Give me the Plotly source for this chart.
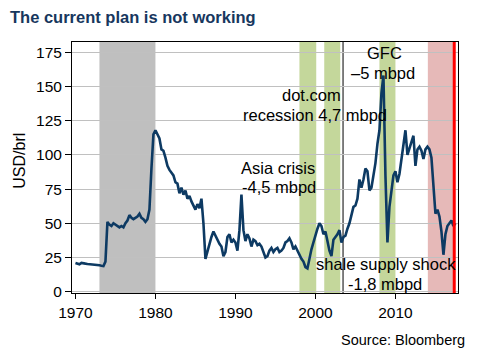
import numpy as np
import plotly.graph_objects as go

# Quarterly oil price readings (USD/brl), starting Q1 1970
prices = [
    21, 20.5, 20, 21,          # 1970
    20.5, 20.5, 20.3, 20.2,    # 1971
    20, 20, 19.8, 19.5,        # 1972
    19.3, 19, 18.8, 22,        # 1973
    51, 49, 48, 50,            # 1974
    49, 48, 47, 48,            # 1975
    47, 50, 52, 56,            # 1976
    54, 53, 54, 55,            # 1977
    57, 54, 53, 51,            # 1978
    53, 60, 90, 115,           # 1979
    118, 115, 112, 104,        # 1980
    103, 98, 92, 89,           # 1981
    87, 85, 80, 79,            # 1982
    72, 76, 71, 74,            # 1983
    68, 70, 66, 63,            # 1984
    60, 64, 61, 68,            # 1985
    50, 24, 30, 35,            # 1986
    40, 44, 41, 37,            # 1987
    35, 33, 26, 29,            # 1988
    40, 42, 36, 38,            # 1989
    36, 30, 45, 71,            # 1990
    45, 37, 42, 39,            # 1991
    33, 38, 37, 34,            # 1992
    35, 33, 29, 25,            # 1993
    26, 30, 32, 29,            # 1994
    31, 32, 29, 30,            # 1995
    32, 36, 37, 39,            # 1996
    36, 31, 33, 30,            # 1997
    26, 24, 22, 18,            # 1998
    17, 25, 31, 36,            # 1999
    42, 46, 50, 48,            # 2000
    42, 44, 37, 30,            # 2001
    26, 38, 40, 42,            # 2002
    45, 36, 40, 41,            # 2003
    46, 50, 56, 62,            # 2004
    63, 68, 82, 76,            # 2005
    82, 90, 88, 74,            # 2006
    76, 86, 94, 108,           # 2007
    118, 145, 158, 85,         # 2008
    36, 62, 72, 85,            # 2009
    88, 80, 86, 97,            # 2010
    110, 118, 100, 105,        # 2011
    110, 114, 92, 104,         # 2012
    106, 103, 97, 104,         # 2013
    106, 104, 98, 80,          # 2014
    57, 60, 55, 44,            # 2015
    27, 42, 48, 50,            # 2016
    52, 48, 50,                # 2017
]
years = 1970 + 0.25 * np.arange(len(prices))

x_ticks = [1970, 1980, 1990, 2000, 2010]
y_ticks = [0, 25, 50, 75, 100, 125, 150, 175]

# shaded periods (start, end, colour)
bands = [
    (1973.0, 1980.0, "#bfbfbf"),
    (1998.0, 2000.1, "#c4d79b"),
    (2001.1, 2003.1, "#c4d79b"),
    (2008.0, 2010.0, "#c4d79b"),
    (2014.05, 2017.3, "#e6b9b8"),
]
black_line_year = 2003.45
red_line_year = 2017.35

labels = [
    ("GFC", 2008.66, 174.5),
    ("\u20135 mbpd", 2008.4, 160),
    ("dot.com", 1999.5, 144),
    ("recession 4,7 mbpd", 1999.9, 129.5),
    ("Asia crisis", 1995.3, 90.5),
    ("-4,5 mbpd", 1995.4, 76.7),
    ("shale supply shock", 2008.8, 20.5),
    ("-1,8 mbpd", 2008.7, 5.6),
]

FONT = "Arial, 'Liberation Sans', sans-serif"

fig = go.Figure()
fig.add_trace(go.Scatter(x=years, y=prices, mode="lines",
                         line=dict(color="#0d3a63", width=2.6),
                         showlegend=False, hoverinfo="skip"))

shapes = []
for x0, x1, c in bands:
    shapes.append(dict(type="rect", xref="x", yref="paper", x0=x0, x1=x1, y0=0, y1=1,
                       fillcolor=c, line=dict(width=0), layer="between"))
shapes.append(dict(type="line", xref="x", yref="paper", x0=black_line_year, x1=black_line_year,
                   y0=0, y1=1, line=dict(color="black", width=1), layer="between"))
shapes.append(dict(type="line", xref="x", yref="paper", x0=red_line_year, x1=red_line_year,
                   y0=0, y1=1, line=dict(color="#ff0000", width=3), layer="above"))

annotations = []
for t, x, y in labels:
    annotations.append(dict(text=t, x=x, y=y, xref="x", yref="y", showarrow=False,
                            xanchor="center", yanchor="middle",
                            font=dict(family=FONT, size=16.5, color="black")))
annotations.append(dict(text="Source: Bloomberg", xref="paper", yref="paper",
                        x=1.0225, y=-0.1876, xanchor="right", yanchor="middle",
                        showarrow=False, font=dict(family=FONT, size=14.5, color="black")))
annotations.append(dict(text="USD/brl", xref="paper", yref="paper", x=-0.1347, y=0.527,
                        textangle=-90, xanchor="center", yanchor="middle", showarrow=False,
                        font=dict(family=FONT, size=16, color="black")))

fig.update_layout(
    width=477, height=354,
    margin=dict(l=72, r=19, t=42, b=61),
    paper_bgcolor="white", plot_bgcolor="white",
    title=dict(text="<b>The current plan is not working</b>", x=10/477, xanchor="left",
               xref="container", y=1 - 17/354, yref="container", yanchor="middle",
               font=dict(family=FONT, size=16.5, color="#17375e")),
    shapes=shapes, annotations=annotations,
    xaxis=dict(range=[1969.57, 2017.82], tickvals=x_ticks, ticks="outside", ticklen=5,
               tickcolor="black", showline=True, linecolor="black", linewidth=1, mirror=True,
               showgrid=False, zeroline=False,
               tickfont=dict(family=FONT, size=15.5, color="black")),
    yaxis=dict(range=[-0.95, 182.5], tickvals=y_ticks, ticks="outside", ticklen=6,
               tickcolor="black", showline=True, linecolor="black", linewidth=1, mirror=True,
               showgrid=True, gridcolor="#c0c0c0", gridwidth=1, zeroline=False,
               tickfont=dict(family=FONT, size=15.5, color="black")),
)

fig.write_html("out.html")
